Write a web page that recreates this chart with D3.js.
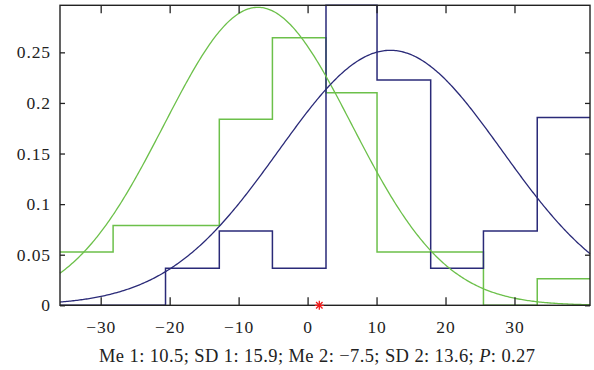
<!DOCTYPE html>
<html><head><meta charset="utf-8">
<script src="https://cdn.jsdelivr.net/npm/d3@7"></script>
<style>body{margin:0;background:#fff}svg{display:block}text{fill:#222}</style>
</head><body><svg id="c" width="594" height="370"></svg>
<script>
// ---- data ----
const binEdges = [-35.9, -28.2, -20.6, -12.8, -5.1, 2.67, 10.07, 17.85, 25.5, 33.3, 40.95];
const hist1 = [0, 0, 0.0365, 0.0735, 0.0365, 0.2965, 0.2226, 0.0365, 0.0735, 0.1855]; // blue
const hist2 = [0.0526, 0.0789, 0.0789, 0.184, 0.2645, 0.210, 0.0526, 0.0526, 0, 0.0263]; // green
const fit1 = {mean: 12.0, sd: 16.2, peak: 0.252};   // blue fitted normal
const fit2 = {mean: -7.2, sd: 13.6, peak: 0.2945};  // green fitted normal
const marker = [{x: 1.7, y: 0}];
const xTicks = [-30, -20, -10, 0, 10, 20, 30];
const yTicks = [0, 0.05, 0.1, 0.15, 0.2, 0.25];
const yTickLabels = ["0", "0.05", "0.1", "0.15", "0.2", "0.25"];
const yMax = 0.2965;
const caption = ["Me 1: 10.5; SD 1: 15.9; Me 2: \u22127.5; SD 2: 13.6; ", "P", ": 0.27"];

// ---- layout ----
const L = 60, R = 590, T = 5.3, B = 305.3;
const FONT = "'Liberation Serif', serif";
const svg = d3.select("#c");
const x = d3.scaleLinear().domain([binEdges[0], binEdges[binEdges.length - 1]]).range([L, R]);
const y = d3.scaleLinear().domain([0, yMax]).range([B, T]);

const blue = "#2a2a78", green = "#6cc04a";

function stepPoints(h) {
  const pts = [];
  h.forEach((v, i) => { pts.push([binEdges[i], v]); });
  pts.push([binEdges[binEdges.length - 1], h[h.length - 1]]);
  return pts;
}
const stepLine = d3.line().x(d => x(d[0])).y(d => y(d[1])).curve(d3.curveStepAfter);
const smooth = d3.line().x(d => x(d[0])).y(d => y(d[1]));

const g = svg.append("g");
function curvePts(f) {
  const [a, b] = x.domain();
  return d3.range(0, 401).map(i => {
    const xv = a + (b - a) * i / 400;
    return [xv, f.peak * Math.exp(-((xv - f.mean) ** 2) / (2 * f.sd * f.sd))];
  });
}
g.append("path").attr("d", stepLine(stepPoints(hist2))).attr("fill", "none").attr("stroke", green).attr("stroke-width", 1.5);
g.append("path").attr("d", stepLine(stepPoints(hist1))).attr("fill", "none").attr("stroke", blue).attr("stroke-width", 1.5);
g.append("path").attr("d", smooth(curvePts(fit2))).attr("fill", "none").attr("stroke", green).attr("stroke-width", 1.3);
g.append("path").attr("d", smooth(curvePts(fit1))).attr("fill", "none").attr("stroke", blue).attr("stroke-width", 1.3);

// axes (inward ticks)
const axC = "#222";
const xb = svg.append("g").attr("transform", `translate(0,${B})`)
  .call(d3.axisBottom(x).tickValues(xTicks).tickSizeInner(-8).tickSizeOuter(0).tickPadding(15)
    .tickFormat(d => d < 0 ? "\u2212" + Math.abs(d) : String(d)));
const xt = svg.append("g").attr("transform", `translate(0,${T})`)
  .call(d3.axisTop(x).tickValues(xTicks).tickSizeInner(-8).tickSizeOuter(0).tickFormat(""));
const yl = svg.append("g").attr("transform", `translate(${L},0)`)
  .call(d3.axisLeft(y).tickValues(yTicks).tickSizeInner(-5).tickSizeOuter(0).tickPadding(9)
    .tickFormat((d, i) => yTickLabels[i]));
const yr = svg.append("g").attr("transform", `translate(${R},0)`)
  .call(d3.axisRight(y).tickValues(yTicks).tickSizeInner(-5).tickSizeOuter(0).tickFormat(""));
[xb, xt, yl, yr].forEach(a => {
  a.select(".domain").remove();
  a.selectAll(".tick line").attr("stroke", axC).attr("stroke-width", 1.3);
  a.selectAll("text").attr("font-size", 17.5).attr("fill", "#222").attr("font-family", FONT)
    .attr("letter-spacing", 0.9);
});
xb.selectAll("text").attr("dy", "0.71em");
svg.append("rect").attr("x", L).attr("y", T).attr("width", R - L).attr("height", B - T)
  .attr("fill", "none").attr("stroke", axC).attr("stroke-width", 1.4);

// red asterisk marker
const mk = svg.append("g");
marker.forEach(m => {
  const cx = x(m.x), cy = y(m.y), r = 4.5;
  const p = d3.path();
  p.moveTo(cx - r, cy); p.lineTo(cx + r, cy);
  p.moveTo(cx, cy - r); p.lineTo(cx, cy + r);
  const d = r * 0.72;
  p.moveTo(cx - d, cy - d); p.lineTo(cx + d, cy + d);
  p.moveTo(cx - d, cy + d); p.lineTo(cx + d, cy - d);
  mk.append("path").attr("d", p.toString()).attr("stroke", "#f01c1c").attr("stroke-width", 1.3).attr("fill", "none");
});

// caption
const cap = svg.append("text").attr("x", 317).attr("y", 361.5).attr("text-anchor", "middle").attr("font-size", 18.5)
  .attr("font-family", FONT).attr("textLength", 436).attr("lengthAdjust", "spacing");
cap.append("tspan").text(caption[0]);
cap.append("tspan").attr("font-style", "italic").text(caption[1]);
cap.append("tspan").text(caption[2]);
</script></body></html>
